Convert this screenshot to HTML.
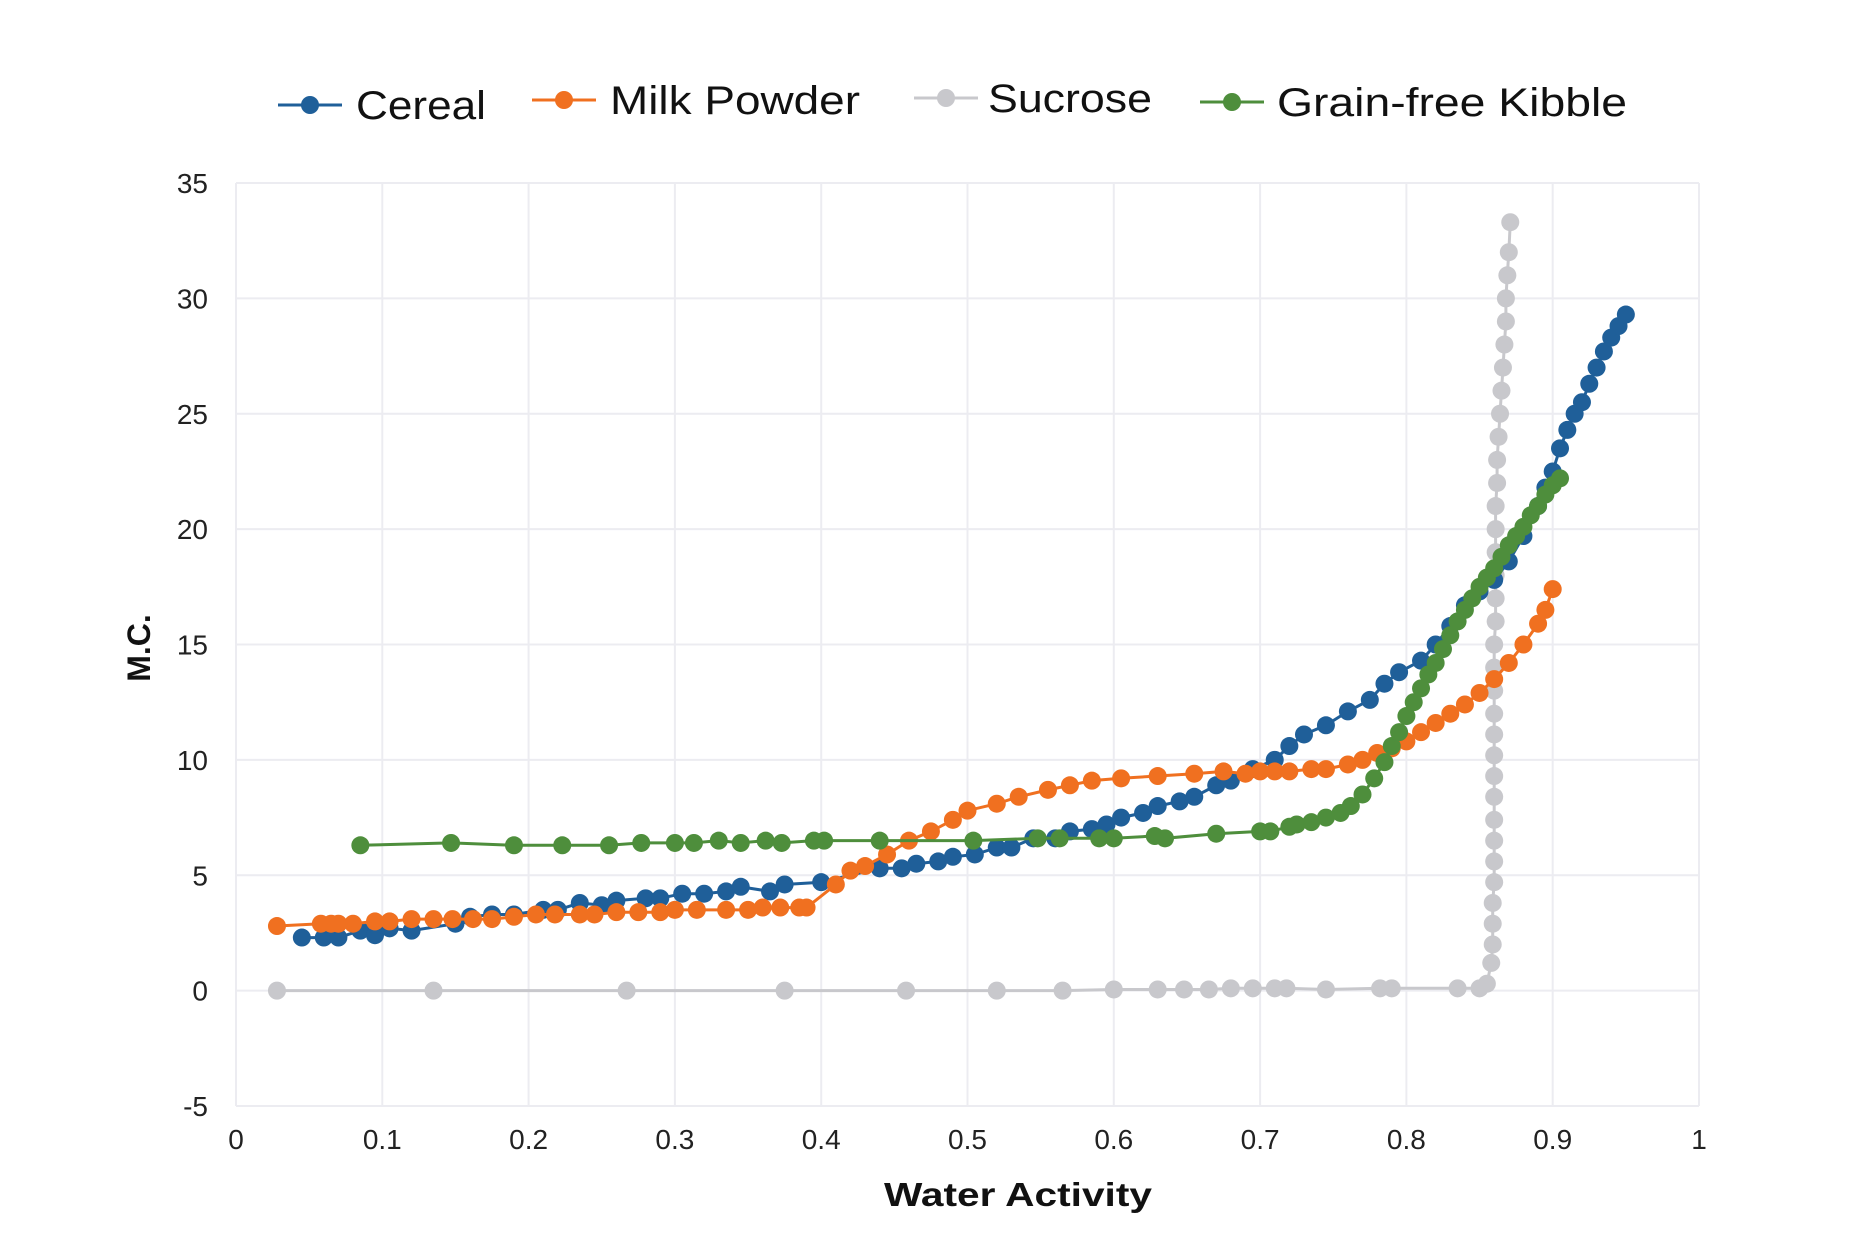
<!DOCTYPE html>
<html><head><meta charset="utf-8"><style>
html,body{margin:0;padding:0;background:#fff;}
svg{display:block;font-family:"Liberation Sans",sans-serif;}
</style></head><body>
<svg id="chart" width="1872" height="1254" viewBox="0 0 1872 1254">
<g id="grid"></g>
<g id="axes"></g>
<g id="series"></g>
<g id="legend"></g>
<text x="150" y="648" transform="rotate(-90 150 648)" text-anchor="middle" font-size="32" font-weight="bold" fill="#111">M.C.</text>
<text x="1018" y="1206" text-anchor="middle" font-size="33" font-weight="bold" fill="#111" textLength="268" lengthAdjust="spacingAndGlyphs">Water Activity</text>
</svg>
<script>
const xTicks=[0,0.1,0.2,0.3,0.4,0.5,0.6,0.7,0.8,0.9,1];
const xTickLabels=["0","0.1","0.2","0.3","0.4","0.5","0.6","0.7","0.8","0.9","1"];
const yTicks=[-5,0,5,10,15,20,25,30,35];
const yTickLabels=["-5","0","5","10","15","20","25","30","35"];
const seriesNames=["Cereal","Milk Powder","Sucrose","Grain-free Kibble"];
const cerealX=[0.045,0.06,0.07,0.085,0.095,0.105,0.12,0.15,0.16,0.175,0.19,0.21,0.22,0.235,0.25,0.26,0.28,0.29,0.305,0.32,0.335,0.345,0.365,0.375,0.4,0.44,0.455,0.465,0.48,0.49,0.505,0.52,0.53,0.545,0.56,0.57,0.585,0.595,0.605,0.62,0.63,0.645,0.655,0.67,0.68,0.695,0.71,0.72,0.73,0.745,0.76,0.775,0.785,0.795,0.81,0.82,0.83,0.84,0.85,0.86,0.87,0.88,0.89,0.895,0.9,0.905,0.91,0.915,0.92,0.925,0.93,0.935,0.94,0.945,0.95];
const cerealY=[2.3,2.3,2.3,2.6,2.4,2.7,2.6,2.9,3.2,3.3,3.3,3.5,3.5,3.8,3.7,3.9,4.0,4.0,4.2,4.2,4.3,4.5,4.3,4.6,4.7,5.3,5.3,5.5,5.6,5.8,5.9,6.2,6.2,6.6,6.6,6.9,7.0,7.2,7.5,7.7,8.0,8.2,8.4,8.9,9.1,9.6,10.0,10.6,11.1,11.5,12.1,12.6,13.3,13.8,14.3,15.0,15.8,16.7,17.3,17.8,18.6,19.7,21.0,21.8,22.5,23.5,24.3,25.0,25.5,26.3,27.0,27.7,28.3,28.8,29.3];
const milkX=[0.028,0.058,0.065,0.07,0.08,0.095,0.105,0.12,0.135,0.148,0.162,0.175,0.19,0.205,0.218,0.235,0.245,0.26,0.275,0.29,0.3,0.315,0.335,0.35,0.36,0.372,0.385,0.39,0.41,0.42,0.43,0.445,0.46,0.475,0.49,0.5,0.52,0.535,0.555,0.57,0.585,0.605,0.63,0.655,0.675,0.69,0.7,0.71,0.72,0.735,0.745,0.76,0.77,0.78,0.79,0.8,0.81,0.82,0.83,0.84,0.85,0.86,0.87,0.88,0.89,0.895,0.9];
const milkY=[2.8,2.9,2.9,2.9,2.9,3.0,3.0,3.1,3.1,3.1,3.1,3.1,3.2,3.3,3.3,3.3,3.3,3.4,3.4,3.4,3.5,3.5,3.5,3.5,3.6,3.6,3.6,3.6,4.6,5.2,5.4,5.9,6.5,6.9,7.4,7.8,8.1,8.4,8.7,8.9,9.1,9.2,9.3,9.4,9.5,9.4,9.5,9.5,9.5,9.6,9.6,9.8,10.0,10.3,10.5,10.8,11.2,11.6,12.0,12.4,12.9,13.5,14.2,15.0,15.9,16.5,17.4];
const sucroseX=[0.028,0.135,0.267,0.375,0.458,0.52,0.565,0.6,0.63,0.648,0.665,0.68,0.695,0.71,0.718,0.745,0.782,0.79,0.835,0.85,0.855,0.858,0.859,0.859,0.859,0.86,0.86,0.86,0.86,0.86,0.86,0.86,0.86,0.86,0.86,0.86,0.86,0.861,0.861,0.861,0.861,0.861,0.861,0.862,0.862,0.863,0.864,0.865,0.866,0.867,0.868,0.868,0.869,0.87,0.871];
const sucroseY=[0,0,0,0,0,0,0,0.05,0.05,0.05,0.05,0.1,0.1,0.1,0.1,0.05,0.1,0.1,0.1,0.1,0.3,1.2,2.0,2.9,3.8,4.7,5.6,6.5,7.4,8.4,9.3,10.2,11.1,12.0,13,14,15,16,17,18,19,20,21,22,23,24,25,26,27,28,29,30,31,32,33.3];
const grainX=[0.085,0.147,0.19,0.223,0.255,0.277,0.3,0.313,0.33,0.345,0.362,0.373,0.395,0.402,0.44,0.504,0.548,0.563,0.59,0.6,0.628,0.635,0.67,0.7,0.707,0.72,0.725,0.735,0.745,0.755,0.762,0.77,0.778,0.785,0.79,0.795,0.8,0.805,0.81,0.815,0.82,0.825,0.83,0.835,0.84,0.845,0.85,0.855,0.86,0.865,0.87,0.875,0.88,0.885,0.89,0.895,0.9,0.905];
const grainY=[6.3,6.4,6.3,6.3,6.3,6.4,6.4,6.4,6.5,6.4,6.5,6.4,6.5,6.5,6.5,6.5,6.6,6.6,6.6,6.6,6.7,6.6,6.8,6.9,6.9,7.1,7.2,7.3,7.5,7.7,8.0,8.5,9.2,9.9,10.6,11.2,11.9,12.5,13.1,13.7,14.2,14.8,15.4,16.0,16.5,17.0,17.5,17.9,18.3,18.8,19.3,19.7,20.1,20.6,21.0,21.5,21.9,22.2];

const NS="http://www.w3.org/2000/svg";
const X0=236,X1=1699,Yt=183,Yb=1106;
function sx(v){return X0+(v-0)/(1-0)*(X1-X0);}
function sy(v){return Yb-(v-(-5))/(35-(-5))*(Yb-Yt);}
function mk(tag,attrs,parent){const e=document.createElementNS(NS,tag);for(const k in attrs)e.setAttribute(k,attrs[k]);parent.appendChild(e);return e;}
const grid=document.getElementById('grid'),axes=document.getElementById('axes'),series=document.getElementById('series'),legend=document.getElementById('legend');
xTicks.forEach((t,i)=>{
  const l=mk('line',{x1:sx(t),x2:sx(t),y1:Yt,y2:Yb,stroke:'#ececf1','stroke-width':2},grid);
  
  
  const tx=mk('text',{x:sx(t),y:1149,'text-anchor':'middle','font-size':28,fill:'#222'},axes);
  tx.textContent=xTickLabels[i];
  
  
});
yTicks.forEach((t,i)=>{
  const l=mk('line',{x1:X0,x2:X1,y1:sy(t),y2:sy(t),stroke:'#ececf1','stroke-width':2},grid);
  
  
  const tx=mk('text',{x:208,y:sy(t)+10,'text-anchor':'end','font-size':28,fill:'#222'},axes);
  tx.textContent=yTickLabels[i];
  
  
});
const colors=["#1f5f99","#f07020","#c8c8cc","#4e8e3c"];
const allX=[cerealX,milkX,sucroseX,grainX],allY=[cerealY,milkY,sucroseY,grainY];
const order=[2,0,1,3];
order.forEach(s=>{
  const g=mk('g',{},series);
  
  
  const xs=allX[s],ys=allY[s];
  const n=Math.min(xs.length,ys.length);
  let d='';
  for(let i=0;i<n;i++)d+=(i?'L':'M')+sx(xs[i]).toFixed(1)+','+sy(ys[i]).toFixed(1);
  const p=mk('path',{d:d,fill:'none',stroke:colors[s],'stroke-width':3},g);
  
  
  for(let i=0;i<n;i++){
    const c=mk('circle',{cx:sx(xs[i]),cy:sy(ys[i]),r:9,fill:colors[s]},g);
    
    
  }
});
const legX=[278,532,914,1200],legY=[105,100,98,102],legText=[356,610,988,1277],legW=[130,250,164,350];
seriesNames.forEach((nm,i)=>{
  const g=mk('g',{},legend);
  
  
  mk('line',{x1:legX[i],x2:legX[i]+64,y1:legY[i],y2:legY[i],stroke:colors[i],'stroke-width':3},g);
  mk('circle',{cx:legX[i]+32,cy:legY[i],r:9,fill:colors[i]},g);
  const t=mk('text',{x:legText[i],y:legY[i]+14,'font-size':40,fill:'#111',textLength:legW[i],lengthAdjust:'spacingAndGlyphs'},g);
  t.textContent=nm;
});
</script>
</body></html>
